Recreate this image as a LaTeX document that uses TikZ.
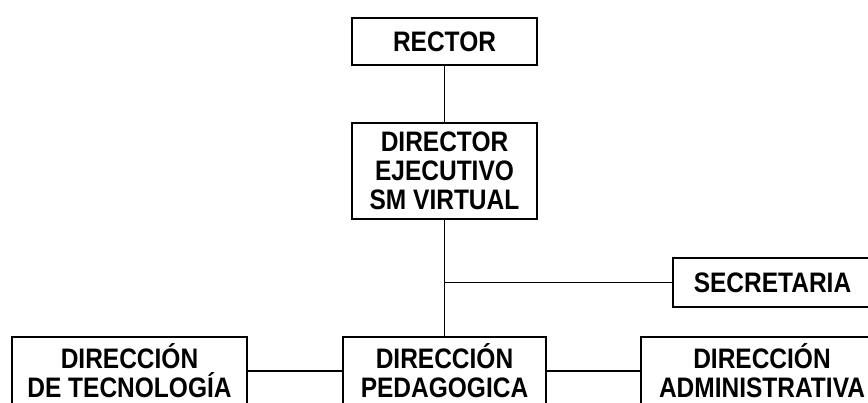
\documentclass[tikz,border=0pt]{standalone}
\usepackage{fontspec}
\setmainfont{Liberation Sans}
\usepackage{tikz}
\usetikzlibrary{shapes}

\tikzset{
    unitbox/.style = {draw, line width = 1.8pt, align = center, inner sep = 0pt,
        yscale = 1.15, transform shape,
        font = \fontsize{24.5}{25}\selectfont\bfseries},
    link/.style = {line width = 1.8pt}
}

\begin{document}
\begin{tikzpicture}[x = 1pt, y = -1pt]
        \useasboundingbox (0, 0) rectangle (868, 403);
        \clip (0, 0) rectangle (868, 403);

        \node[unitbox, minimum width = 185, minimum height = 40.9] (rector) at (444.5, 41.5) {RECTOR};
        \node[unitbox, minimum width = 185, minimum height = 83.5] (director) at (444.5, 171)
            {DIRECTOR\\ EJECUTIVO\\ SM VIRTUAL};
        \node[unitbox, minimum width = 199, minimum height = 42.6] (secretaria) at (772.5, 282.5) {SECRETARIA};

        % cajas de abajo, cortadas por el borde
        \node[unitbox, minimum width = 235, minimum height = 59] (tecnologia) at (129.5, 371)
            {DIRECCIÓN\\ DE TECNOLOGÍA};
        \node[unitbox, minimum width = 203, minimum height = 59] (pedagogica) at (444.5, 371)
            {DIRECCIÓN\\ PEDAGOGICA};
        \node[unitbox, minimum width = 242, minimum height = 59] (administrativa) at (762, 371)
            {DIRECCIÓN\\ ADMINISTRATIVA};

        \coordinate (rama) at (director.south |- secretaria.west);

        \draw[link] (rector) -- (director);
        \draw[link] (director) -- (pedagogica);
        \draw[link] (rama) -- (secretaria);
        \draw[link] (tecnologia) -- (pedagogica);
        \draw[link] (pedagogica) -- (administrativa);
\end{tikzpicture}
\end{document}
